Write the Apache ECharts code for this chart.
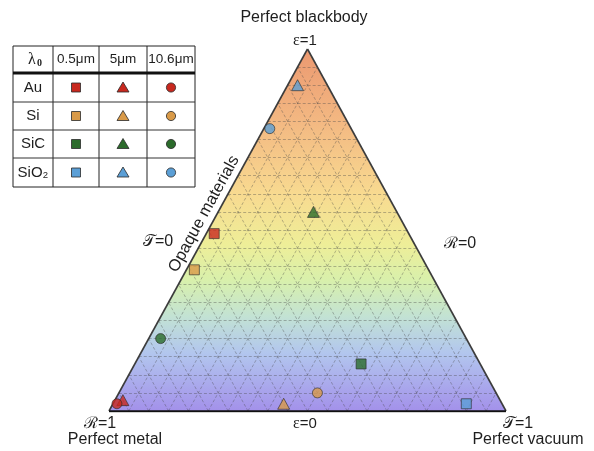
<!DOCTYPE html>
<html><head><meta charset="utf-8">
<script src="https://cdn.jsdelivr.net/npm/echarts@6/dist/echarts.min.js"></script>
<style>html,body{margin:0;padding:0;background:#fff}#chart{width:594px;height:451px}</style>
</head><body><div id="chart"></div>
<script>
// Materials and the wavelengths they were measured at
const materials = ['Au', 'Si', 'SiC', 'SiO₂'];
const materialColors = ['#c8281e', '#d99a48', '#2b6b2b', '#5b9fd6'];
const wavelengths = ['0.5μm', '5μm', '10.6μm'];
const symbols = ['rect', 'triangle', 'circle'];

// Emissivity ε and transmittance T for Au, Si, SiC, SiO2; reflectance R = 1 − ε − T
const emis_05   = [0.49, 0.39, 0.13, 0.02];
const trans_05  = [0.02, 0.02, 0.57, 0.89];
const emis_5    = [0.03, 0.02, 0.55, 0.90];
const trans_5   = [0.02, 0.43, 0.24, 0.025];
const emis_106  = [0.02, 0.05, 0.20, 0.78];
const trans_106 = [0.01, 0.50, 0.03, 0.015];

const emisByWave = [emis_05, emis_5, emis_106];
const transByWave = [trans_05, trans_5, trans_106];
const gridDivisions = 20;

// ternary (ε, T) -> cartesian (x, y) on a unit-base triangle
function toXY(e, t) { return [t + e / 2, e]; }

// interior triangular grid
const gridLines = [];
for (let k = 1; k < gridDivisions; k++) {
  const f = k / gridDivisions;
  gridLines.push({ coords: [toXY(f, 0), toXY(f, 1 - f)] });       // constant ε
  gridLines.push({ coords: [toXY(0, f), toXY(1 - f, f)] });       // constant T
  gridLines.push({ coords: [toXY(0, 1 - f), toXY(1 - f, 0)] });   // constant R
}
const sideEdges = [
  { coords: [toXY(0, 0), toXY(1, 0)] },
  { coords: [toXY(0, 1), toXY(1, 0)] }
];
const baseEdge = [{ coords: [toXY(0, 0), toXY(0, 1)] }];

const symbolSizes = { rect: 10, triangle: [12, 11], circle: 10 };
const pointSeries = wavelengths.map((w, wi) => ({
  type: 'scatter',
  name: w,
  symbol: symbols[wi],
  symbolSize: symbolSizes[symbols[wi]],
  z: 5,
  itemStyle: { borderColor: '#2a2a2a', borderWidth: 0.8 },
  data: materials.map((m, i) => ({
    name: m,
    value: toXY(emisByWave[wi][i], transByWave[wi][i]),
    itemStyle: { color: materialColors[i] }
  }))
}));

const sansFont = '"Liberation Sans", Arial, sans-serif';
const serifFont = '"Liberation Serif", "DejaVu Serif", serif';

function label(x, y, text, size, extra) {
  return {
    type: 'text', x: x, y: y, silent: true,
    style: Object.assign({
      text: text, fill: '#1e1e1e', font: size + 'px ' + sansFont,
      textAlign: 'center', textVerticalAlign: 'middle',
      rich: { e: { fontFamily: serifFont, fontSize: size + 1 }, s: { fontFamily: serifFont, fontSize: size } }
    }, extra || {})
  };
}

// legend table
const colX = [13, 53, 99, 147, 195];
const rowY = [46, 73, 102, 130, 158, 187];
const legend = [];
legend.push({ type: 'rect', shape: { x: colX[0], y: rowY[0], width: colX[4] - colX[0], height: rowY[5] - rowY[0] },
  style: { fill: '#fff', stroke: '#222', lineWidth: 1 } });
for (let c = 1; c < 4; c++) {
  legend.push({ type: 'line', shape: { x1: colX[c], y1: rowY[0], x2: colX[c], y2: rowY[5] }, style: { stroke: '#222', lineWidth: 1 } });
}
for (let r = 2; r < 5; r++) {
  legend.push({ type: 'line', shape: { x1: colX[0], y1: rowY[r], x2: colX[4], y2: rowY[r] }, style: { stroke: '#333', lineWidth: 1 } });
}
legend.push({ type: 'line', shape: { x1: colX[0], y1: rowY[1], x2: colX[4], y2: rowY[1] }, style: { stroke: '#111', lineWidth: 3 } });
legend.push(label((colX[0] + colX[1]) / 2 + 2, (rowY[0] + rowY[1]) / 2, '{e|λ}{z|0}', 14, {
  rich: { e: { fontFamily: serifFont, fontSize: 16 }, z: { fontFamily: serifFont, fontWeight: 'bold', fontSize: 10, padding: [7, 0, 0, 1] } } }));
wavelengths.forEach((w, wi) => {
  legend.push(label((colX[wi + 1] + colX[wi + 2]) / 2, (rowY[0] + rowY[1]) / 2, w, 13.5));
});
materials.forEach((m, i) => {
  const cy = (rowY[i + 1] + rowY[i + 2]) / 2;
  legend.push(label((colX[0] + colX[1]) / 2, cy, m, 15));
  wavelengths.forEach((w, wi) => {
    const cx = (colX[wi + 1] + colX[wi + 2]) / 2;
    const st = { fill: materialColors[i], stroke: '#2a2a2a', lineWidth: 0.8 };
    if (symbols[wi] === 'rect') legend.push({ type: 'rect', shape: { x: cx - 4.5, y: cy - 4.5, width: 9, height: 9 }, style: st });
    else if (symbols[wi] === 'triangle') legend.push({ type: 'polygon', shape: { points: [[cx, cy - 5.5], [cx + 6, cy + 4.5], [cx - 6, cy + 4.5]] }, style: st });
    else legend.push({ type: 'circle', shape: { cx: cx, cy: cy, r: 4.6 }, style: st });
  });
});

const texts = [
  label(304, 18, 'Perfect blackbody', 16),
  label(305, 41, '{e|ε}=1', 15),
  label(158, 242, '{s|𝒯}=0', 16),
  label(460, 244, '{s|ℛ}=0', 16),
  label(100, 424, '{s|ℛ}=1', 16),
  label(115, 440, 'Perfect metal', 16),
  label(305, 424, '{e|ε}=0', 15),
  label(518, 424, '{s|𝒯}=1', 16),
  label(528, 440, 'Perfect vacuum', 16),
  label(204, 214, 'Opaque materials', 16.5),
];
texts[texts.length - 1].rotation = 61.3 * Math.PI / 180;

const chart = echarts.init(document.getElementById('chart'), null, { renderer: 'canvas' });
chart.setOption({
  animation: false,
  backgroundColor: '#fff',
  grid: { left: 109, top: 49, width: 397, height: 362 },
  xAxis: { type: 'value', min: 0, max: 1, show: false },
  yAxis: { type: 'value', min: 0, max: 1, show: false },
  series: [
    {
      type: 'custom', silent: true, z: 1,
      data: [[0.5, 0.5]],
      renderItem: (params, api) => ({
        type: 'polygon',
        shape: { points: [api.coord(toXY(0, 0)), api.coord(toXY(0, 1)), api.coord(toXY(1, 0))] },
        style: {
          fill: new echarts.graphic.LinearGradient(0, 0, 0, 1, [
            { offset: 0, color: '#eb9870' },
            { offset: 0.2, color: '#f3b882' },
            { offset: 0.4, color: '#f8da90' },
            { offset: 0.54, color: '#eeee98' },
            { offset: 0.64, color: '#d8f0ac' },
            { offset: 0.74, color: '#c2e2d4' },
            { offset: 0.84, color: '#b2c6ee' },
            { offset: 1, color: '#a391ea' }
          ])
        }
      })
    },
    {
      type: 'lines', coordinateSystem: 'cartesian2d', silent: true, z: 2,
      lineStyle: { color: '#4a4a4a', width: 0.7, type: [3, 2], opacity: 0.55 },
      data: gridLines
    },
    {
      type: 'lines', coordinateSystem: 'cartesian2d', silent: true, z: 3,
      lineStyle: { color: '#3c3c3c', width: 1.6, opacity: 1 },
      data: sideEdges
    },
    {
      type: 'lines', coordinateSystem: 'cartesian2d', silent: true, z: 3,
      lineStyle: { color: '#111', width: 2.6, opacity: 1 },
      data: baseEdge
    }
  ].concat(pointSeries),
  graphic: legend.concat(texts)
});
</script>
</body></html>
